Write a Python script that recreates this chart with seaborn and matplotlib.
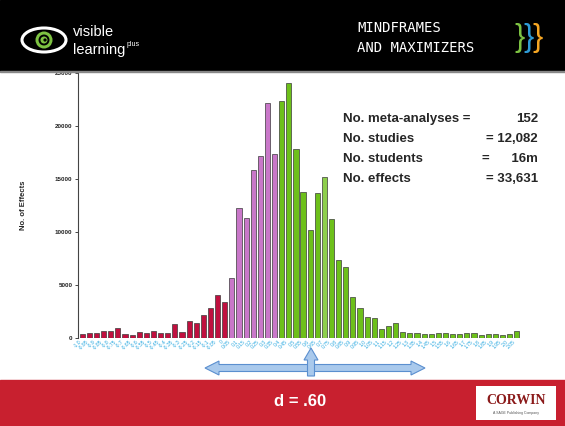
import numpy as np
import pandas as pd
import matplotlib
matplotlib.use("Agg")
import matplotlib.pyplot as plt
import seaborn as sns
from matplotlib.patches import Rectangle, Ellipse, Circle, FancyArrow, Polygon

# ---------------- data ----------------
tick_labels = ["-1.0", "-0.95", "-0.9", "-0.85", "-0.8", "-0.75", "-0.7", "-0.65", "-0.6", "-0.55",
               "-0.5", "-0.45", "-0.4", "-0.35", "-0.3", "-0.25", "-0.2", "-0.15", "-0.1", "-0.05",
               "0", "0.05", "0.1", "0.15", "0.2", "0.25", "0.3", "0.35", "0.4", "0.45",
               "0.5", "0.55", "0.6", "0.65", "0.7", "0.75", "0.8", "0.85", "0.9", "0.95",
               "1.0", "1.05", "1.1", "1.15", "1.2", "1.25", "1.3", "1.35", "1.4", "1.45",
               "1.5", "1.55", "1.6", "1.65", "1.7", "1.75", "1.8", "1.85", "1.9", "1.95",
               "2.0", "2.05"]
neg_effects = [400, 500, 500, 650, 700, 900, 350, 300, 550, 500, 650, 450, 450, 1300, 550,
               1600, 1400, 2200, 2800, 4050, 3400]
low_effects = [5650, 12250, 11300, 15850, 17150, 22150, 17350]
high_effects = [22350, 24050, 17850, 13750, 10200, 13650, 15150, 11200, 7350, 6700,
                3850, 2850, 2000, 1900, 850, 1100, 1450, 600, 500, 450, 400, 400, 450, 500,
                350, 400, 450, 500, 300, 400, 350, 300, 400, 700]
highlight_label = "0.7"

stats_left = ["No. meta-analyses =", "No. studies", "No. students", "No. effects"]
stats_right = ["152", "= 12,082", "=      16m", "= 33,631"]

values = neg_effects + low_effects + high_effects
groups = (["neg"] * len(neg_effects) + ["low"] * len(low_effects) + ["high"] * len(high_effects))
df = pd.DataFrame({"d": tick_labels, "effects": values, "group": groups})
df.loc[df["d"] == highlight_label, "group"] = "hl"

palette = {"neg": "#C0103F", "low": "#C977C9", "high": "#6DC01A", "hl": "#8ECF4C"}

# ---------------- figure ----------------
sns.set_style("white")
plt.rcParams["font.family"] = ["Liberation Sans", "DejaVu Sans"]
W, H = 565, 426
fig = plt.figure(figsize=(W / 100, H / 100), dpi=100)
fig.patch.set_facecolor("white")

ax = fig.add_axes([78 / W, (H - 338) / H, 443 / W, 265 / H])
sns.barplot(data=df, x="d", y="effects", hue="group", palette=palette, dodge=False,
            legend=False, width=0.72, edgecolor="#3a3a3a", linewidth=0.5, ax=ax,
            saturation=1)
ax.set_ylim(0, 25000)
ax.set_xlim(-0.6, len(tick_labels) - 0.4)
ax.set_yticks([0, 5000, 10000, 15000, 20000, 25000])
ax.set_yticklabels(["0", "5000", "10000", "15000", "20000", "25000"], fontsize=4.5,
                   fontweight="bold", color="#222222")
ax.tick_params(axis="y", length=2, width=0.6, pad=2, left=True)
ax.set_xticks(range(len(tick_labels)))
ax.set_xticklabels(tick_labels, rotation=45, ha="right", fontsize=3.6, color="#29A8E0")
ax.tick_params(axis="x", length=0, pad=1)
ax.set_xlabel("")
ax.set_ylabel("No. of Effects", fontsize=5.5, fontweight="bold", labelpad=20)
for s in ["top", "right", "bottom"]:
    ax.spines[s].set_visible(False)
ax.spines["left"].set_color("#444444")
ax.spines["left"].set_linewidth(0.8)
ax.set_facecolor("none")

# ---------------- overlay in pixel coordinates ----------------
ov = fig.add_axes([0, 0, 1, 1])
ov.set_xlim(0, W)
ov.set_ylim(H, 0)
ov.axis("off")
ov.patch.set_alpha(0)

# header band
ov.add_patch(Rectangle((0, 0), W, 71, color="black", zorder=1))
ov.add_patch(Rectangle((0, 71), W, 1.2, color="#888888", zorder=1))
# eye logo
ov.add_patch(Ellipse((44, 40), 44, 24, facecolor="black", edgecolor="white", lw=2.2, zorder=2))
ov.add_patch(Circle((44, 40), 8.5, facecolor="#7DC242", edgecolor="none", zorder=3))
ov.add_patch(Circle((44, 40), 4.5, facecolor="none", edgecolor="black", lw=1.4, zorder=4))
ov.add_patch(Circle((45, 40), 1.6, facecolor="black", edgecolor="none", zorder=4))
ov.text(73, 32, "visible", color="white", fontsize=10.5, va="center", ha="left", zorder=5)
ov.text(73, 50, "learning", color="white", fontsize=10.5, va="center", ha="left", zorder=5)
ov.text(127, 44, "plus", color="white", fontsize=5, va="center", ha="left", zorder=5)
# mindframes logo
ov.text(357, 28, "MINDFRAMES", color="white", fontsize=10, va="center", ha="left",
        family="DejaVu Sans Mono", zorder=5)
ov.text(357, 48, "AND MAXIMIZERS", color="white", fontsize=10, va="center", ha="left",
        family="DejaVu Sans Mono", zorder=5)
for dx, c in zip([0, 9, 18], ["#7DC242", "#2E9BD6", "#F5A623"]):
    ov.text(514 + dx, 38, "}", color=c, fontsize=22, va="center", ha="left", zorder=5)

# statistics
for i, (l, r) in enumerate(zip(stats_left, stats_right)):
    y = 119 + i * 20
    ov.text(343, y, l, fontsize=9.5, fontweight="bold", va="center", ha="left", zorder=5)
    ov.text(538, y, r, fontsize=9.5, fontweight="bold", va="center", ha="right", zorder=5)

# double arrow (single outline)
x0, x1, yc, sh, hh, hl = 205, 425, 368, 3.5, 7, 14
pts = [(x0, yc), (x0 + hl, yc - hh), (x0 + hl, yc - sh), (x1 - hl, yc - sh), (x1 - hl, yc - hh),
       (x1, yc), (x1 - hl, yc + hh), (x1 - hl, yc + sh), (x0 + hl, yc + sh), (x0 + hl, yc + hh)]
ov.add_patch(Polygon(pts, closed=True, facecolor="#A9C9EC", edgecolor="#5B8FCF", lw=0.8, zorder=4))
ov.add_patch(FancyArrow(311, 376, 0, -28, width=7, head_width=14, head_length=12,
                        length_includes_head=True, facecolor="#A9C9EC", edgecolor="#5B8FCF",
                        lw=0.8, zorder=5))

# bottom band
ov.add_patch(Rectangle((0, 380), W, 46, color="#C8202F", zorder=1))
ov.text(300, 402, "d = .60", color="white", fontsize=12, fontweight="bold",
        va="center", ha="center", zorder=5)
ov.add_patch(Rectangle((476, 386), 80, 34, facecolor="white", edgecolor="none", zorder=2))
ov.text(516, 400, "CORWIN", color="#8B1A1A", fontsize=10, fontweight="bold",
        family="Liberation Serif", va="center", ha="center", zorder=5)
ov.text(516, 413, "A SAGE Publishing Company", color="#555555", fontsize=2.5,
        va="center", ha="center", zorder=5)

fig.savefig("out.png", dpi=100)
